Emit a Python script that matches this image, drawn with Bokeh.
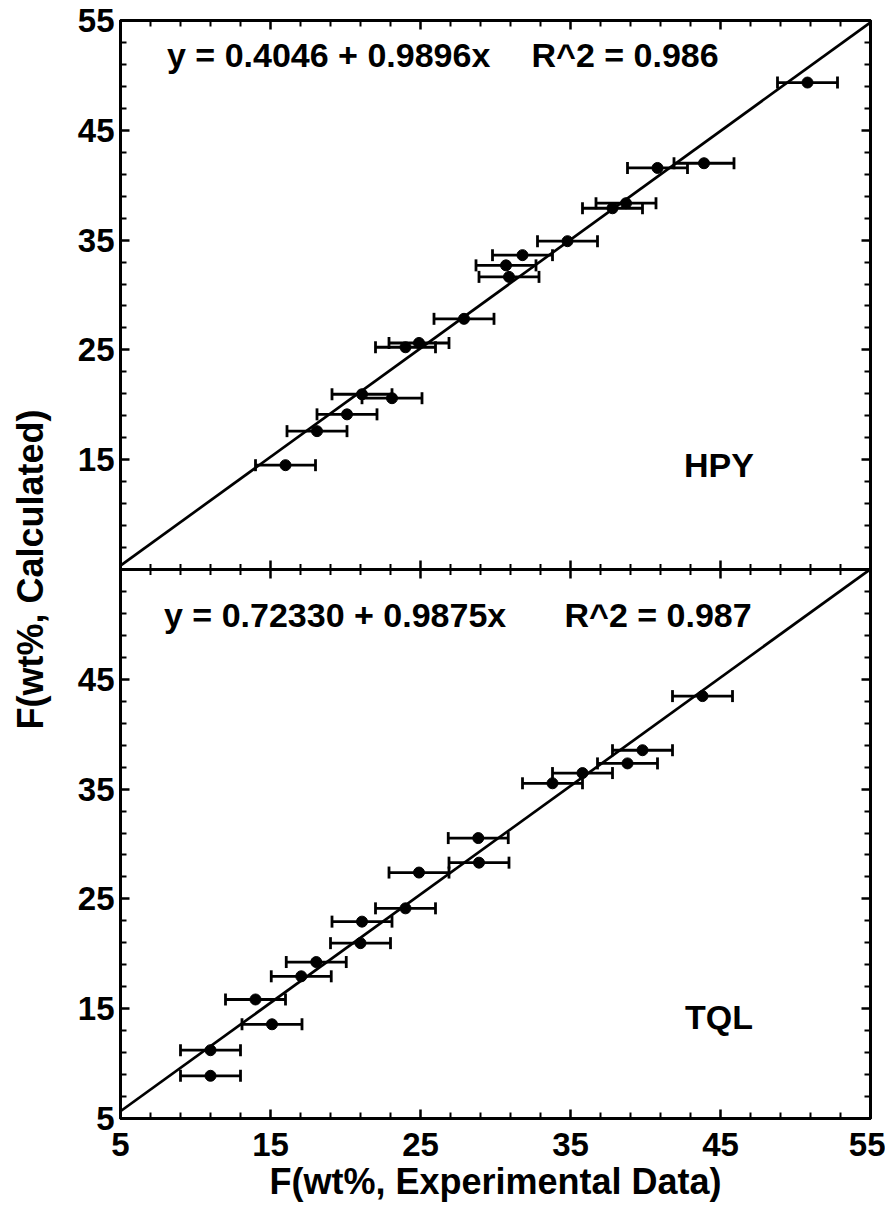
import numpy as np
from bokeh.plotting import figure
from bokeh.models import (Range1d, LinearAxis, FixedTicker, Whisker, TeeHead,
                          ColumnDataSource, Label, Span)
from bokeh.embed import file_html
from bokeh.resources import INLINE

FONT = "Liberation Sans"

# ---- HPY (upper panel) ----
hpy_exp = [50.8, 43.9, 40.8, 38.7, 37.8, 34.8, 31.8, 30.7, 30.9, 27.9,
           24.9, 24.0, 21.1, 23.1, 20.1, 18.1, 16.0]
hpy_calc = [49.35, 42.0, 41.57, 38.36, 37.9, 34.9, 33.63, 32.7, 31.65, 27.83,
            25.63, 25.24, 20.96, 20.6, 19.13, 17.6, 14.5]
hpy_intercept, hpy_slope = 0.4046, 0.9896
hpy_intercept_txt, hpy_slope_txt = "0.4046", "0.9896"
hpy_r2 = "0.986"

# ---- TQL (lower panel) ----
tql_exp = [43.8, 39.8, 38.8, 35.8, 33.8, 28.85, 28.9, 24.9, 24.0, 21.1,
           21.0, 18.05, 17.05, 14.0, 15.1, 11.0, 11.0]
tql_calc = [43.47, 38.54, 37.34, 36.46, 35.53, 30.54, 28.3, 27.4, 24.14, 22.93,
            20.97, 19.25, 17.95, 15.84, 13.58, 11.22, 8.89]
tql_intercept, tql_slope = 0.72330, 0.9875
tql_intercept_txt, tql_slope_txt = "0.72330", "0.9875"
tql_r2 = "0.987"

x_err = 2.0  # experimental uncertainty, wt%

x_ticks = [5, 15, 25, 35, 45, 55]
upper_ticks = [15, 25, 35, 45, 55]
lower_ticks = [5, 15, 25, 35, 45]

LO, HI = 5, 55
SPAN = HI - LO

p = figure(width=885, height=1213,
           x_range=Range1d(LO, HI), y_range=Range1d(LO, HI + SPAN),
           output_backend="svg", toolbar_location=None,
           x_axis_location=None, y_axis_location=None,
           min_border_left=120, min_border_right=15,
           min_border_top=20, min_border_bottom=95)
p.extra_y_ranges = {"upper": Range1d(LO - SPAN, HI)}
p.grid.visible = False
p.outline_line_color = "black"
p.outline_line_width = 3
p.background_fill_color = "white"
p.border_fill_color = "white"

# ticks
x_minor = [v for v in range(LO + 2, HI, 2) if v not in x_ticks]
y_major = lower_ticks + [t + SPAN for t in upper_ticks]
y_minor = [v for v in range(LO + 2, HI + SPAN, 2) if v not in y_major and v != HI]
y_labels = {t: str(t) for t in lower_ticks}
y_labels.update({t + SPAN: str(t) for t in upper_ticks})


def style_axis(ax, show_labels):
    ax.axis_line_width = 3
    ax.axis_line_color = "black"
    ax.major_tick_line_width = 2.5
    ax.minor_tick_line_width = 2
    ax.major_tick_in = 9
    ax.major_tick_out = 0
    ax.minor_tick_in = 6
    ax.minor_tick_out = 0
    ax.major_label_text_font = FONT
    ax.major_label_text_font_style = "bold"
    ax.major_label_text_font_size = "33px"
    ax.major_label_text_color = "black" if show_labels else None
    ax.axis_label_text_font = FONT
    ax.axis_label_text_font_style = "bold"
    ax.axis_label_text_font_size = "36px"
    ax.axis_label_text_color = "black"


xb = LinearAxis(ticker=FixedTicker(ticks=x_ticks, minor_ticks=x_minor),
                axis_label="F(wt%, Experimental Data)")
style_axis(xb, True)
xb.major_label_standoff = 14
xb.axis_label_standoff = 2
p.add_layout(xb, "below")

xt = LinearAxis(ticker=FixedTicker(ticks=x_ticks, minor_ticks=x_minor))
style_axis(xt, False)
p.add_layout(xt, "above")

yl = LinearAxis(ticker=FixedTicker(ticks=y_major, minor_ticks=y_minor),
                major_label_overrides=y_labels,
                axis_label="F(wt%, Calculated)")
style_axis(yl, True)
yl.major_label_standoff = 6
yl.axis_label_standoff = 24
p.add_layout(yl, "left")

yr = LinearAxis(ticker=FixedTicker(ticks=y_major, minor_ticks=y_minor))
style_axis(yr, False)
p.add_layout(yr, "right")

# divider between the two panels, ticked on both sides
p.add_layout(Span(location=HI, dimension="width", line_color="black", line_width=3))
p.scatter(x=x_ticks[1:-1], y=[HI] * len(x_ticks[1:-1]), marker="dash",
          angle=np.pi / 2, size=18, line_width=2.5, line_color="black")
p.scatter(x=x_minor, y=[HI] * len(x_minor), marker="dash",
          angle=np.pi / 2, size=11, line_width=2, line_color="black")


def panel(exp, calc, a, b, a_txt, b_txt, r2, name, range_name, eq_pos, r2_pos, name_pos):
    kw = {} if range_name is None else {"y_range_name": range_name}
    exp = np.asarray(exp)
    src = ColumnDataSource(dict(x=exp, y=calc, lo=exp - x_err, hi=exp + x_err))
    head = dict(size=12, line_width=2.8, line_color="black")
    p.add_layout(Whisker(source=src, base="y", lower="lo", upper="hi",
                         dimension="width", line_width=2.8, line_color="black",
                         lower_head=TeeHead(**head), upper_head=TeeHead(**head),
                         **kw))
    fx = np.array([LO, HI], dtype=float)
    p.line(fx, a + b * fx, line_color="black", line_width=2.7, **kw)
    p.scatter("x", "y", source=src, size=11, color="black", **kw)
    txt = dict(text_font=FONT, text_font_style="bold", text_font_size="34px",
               text_color="black", text_baseline="middle", **kw)
    p.add_layout(Label(x=eq_pos[0], y=eq_pos[1], text=f"y = {a_txt} + {b_txt}x", **txt))
    p.add_layout(Label(x=r2_pos[0], y=r2_pos[1], text=f"R^2 = {r2}", **txt))
    p.add_layout(Label(x=name_pos[0], y=name_pos[1], text=name, text_align="center", **txt))


panel(hpy_exp, hpy_calc, hpy_intercept, hpy_slope, hpy_intercept_txt, hpy_slope_txt,
      hpy_r2, "HPY", "upper", (8.1, 51.9), (32.4, 51.9), (44.9, 14.5))
panel(tql_exp, tql_calc, tql_intercept, tql_slope, tql_intercept_txt, tql_slope_txt,
      tql_r2, "TQL", None, (7.9, 50.9), (34.6, 50.9), (44.9, 14.2))

open("out.html", "w").write(file_html(p, INLINE))
